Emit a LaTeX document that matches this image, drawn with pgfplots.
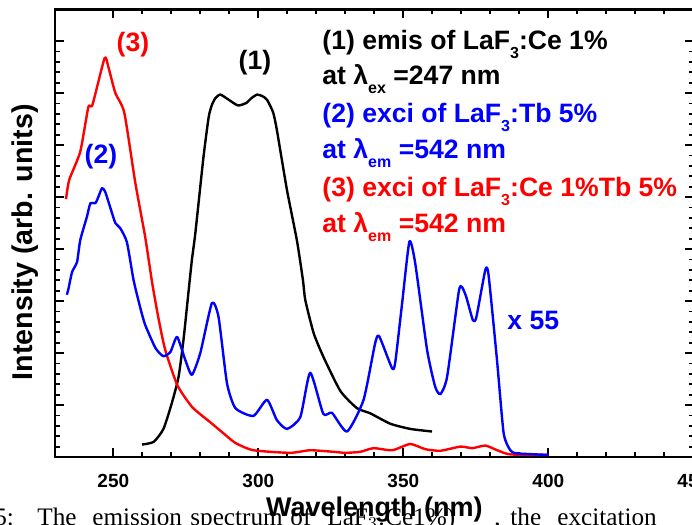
\documentclass[border=0pt]{standalone}
\usepackage{fontspec}
\setmainfont{Liberation Sans}
\newfontfamily\capfont{Liberation Serif}
\usepackage{pgfplots}
\pgfplotsset{compat=1.18}
\newcommand\sub[1]{\raisebox{-4.5pt}{\fontsize{8}{8}\selectfont #1}}
\begin{document}
\begin{tikzpicture}
\useasboundingbox (0,0) rectangle (346pt,262.5pt);
\clip (0,0) rectangle (346pt,262.5pt);
\begin{scope}[every node/.style={inner sep=0pt, anchor=base west, font=\capfont\fontsize{12.6}{14}\selectfont}]
\node at (-3pt,-0.5pt) {5:};
\node at (18.5pt,-0.5pt) {The};
\node at (46pt,-0.5pt) {emission};
\node at (95pt,-0.5pt) {spectrum};
\node at (145pt,-0.5pt) {of};
\node at (163.5pt,-0.5pt) {LaF$_3$:Ce1\%)};
\node at (247pt,-0.5pt) {,};
\node at (255pt,-0.5pt) {the};
\node at (278.5pt,-0.5pt) {excitation};
\end{scope}
\begin{axis}[
  at={(27.65pt,34pt)}, anchor=south west,
  scale only axis, width=319pt, height=223.75pt,
  xmin=230, xmax=450, ymin=0, ymax=8.606,
  axis line style={line width=1.2pt},
  tick style={line width=0.9pt, black},
  major tick length=4.25pt, minor tick length=2.25pt,
  tick align=inside,
  xtick={250,300,350,400,450}, minor x tick num=4,
  ytick={0,1,...,8}, yticklabels={}, minor y tick num=4,
  /pgf/number format/assume math mode=true,
  xticklabel style={font=\bfseries\fontsize{9.5}{11}\selectfont, yshift=-5pt},
  xlabel={Wavelength (nm)}, ylabel={Intensity (arb. units)},
  every axis x label/.style={at={(axis description cs:0.5,0)}, anchor=base, yshift=-30pt, font=\bfseries\fontsize{13.5}{15}\selectfont},
  every axis y label/.style={at={(axis description cs:-0.047,0.48)}, rotate=90, anchor=center, font=\bfseries\fontsize{14.3}{16}\selectfont},
  every axis plot/.append style={line width=1.2pt, line join=round, smooth, tension=0.35},
]
\addplot[black] coordinates {
(259.9,0.24) (263.9,0.29) (267.3,0.54) (270.2,1.04) (272.5,1.54) (274.2,2.25)
(276.0,3.21) (277.1,3.79) (278.3,4.31) (281.1,5.77) (282.9,6.54) (284.0,6.77)
(285.2,6.90) (286.9,6.97) (289.8,6.87) (293.0,6.76) (295.9,6.81) (297.6,6.90)
(299.6,6.97) (301.4,6.94) (303.0,6.87) (305.1,6.63) (306.4,6.29) (309.9,5.13)
(313.3,4.17) (315.4,3.40) (316.2,3.02) (319.1,2.38) (322.5,1.92) (328.3,1.27)
(334.0,0.94) (338.6,0.84) (345.5,0.64) (352.4,0.54) (359.9,0.49)
};
\addplot[red] coordinates {
(233.7,4.96) (234.8,5.33) (238.6,5.87) (241.4,6.73) (242.8,6.77) (247.0,7.67)
(248.3,7.50) (250.7,7.00) (253.8,6.62) (257.6,5.27) (261.0,4.23) (263.4,3.35)
(265.5,2.69) (267.9,2.06) (272.1,1.38) (277.2,0.96) (283.4,0.67) (287.9,0.46)
(292.1,0.27) (298.3,0.13) (311.0,0.08) (317.9,0.13) (325.9,0.10) (330.0,0.08)
(335.2,0.10) (339.7,0.17) (346.2,0.13) (352.4,0.25) (357.6,0.15) (362.8,0.12)
(369.7,0.20) (373.8,0.17) (378.3,0.22) (382.4,0.13) (386.9,0.05) (400.0,0.04)
};
\addplot[blue] coordinates {
(234.0,3.12) (234.6,3.25) (235.8,3.56) (237.5,3.75) (238.6,4.17) (240.9,4.62)
(242.1,4.88) (243.8,4.88) (244.7,4.98) (246.1,5.17) (247.2,5.10) (249.0,4.79)
(250.7,4.50) (252.4,4.40) (254.7,4.13) (257.0,3.40) (259.3,2.87) (261.0,2.54)
(264.5,2.10) (267.2,1.94) (269.7,2.02) (272.0,2.31) (274.8,1.87) (277.1,1.58)
(280.0,2.00) (284.0,2.96) (286.3,2.69) (289.2,1.42) (292.1,0.94) (298.3,0.79)
(303.0,1.10) (306.4,0.71) (309.9,0.54) (314.5,0.77) (317.9,1.62) (322.4,0.83)
(325.4,0.85) (330.6,0.49) (336.3,1.10) (340.3,2.19) (341.7,2.32) (346.1,1.71)
(347.2,1.81) (349.6,2.96) (352.1,4.14) (354.1,3.73) (358.2,2.06) (361.0,1.35)
(362.8,1.21) (365.1,1.54) (369.1,3.17) (370.2,3.27) (371.7,3.08) (374.0,2.63)
(375.2,2.69) (378.3,3.60) (379.4,3.50) (382.3,1.87) (384.6,0.46) (386.9,0.13)
(389.2,0.07) (400.0,0.04)
};
\end{axis}
\begin{scope}[every node/.style={inner sep=0pt, font=\bfseries\fontsize{13.3}{15}\selectfont}]
\node[anchor=base west, text=black] at (161pt,237.5pt) {(1) emis of LaF\sub{3}:Ce 1\%};
\node[anchor=base west, text=black] at (161pt,220pt) {at λ\sub{ex} =247 nm};
\node[anchor=base west, text=blue] at (161pt,201pt) {(2) exci of LaF\sub{3}:Tb 5\%};
\node[anchor=base west, text=blue] at (161pt,183pt) {at λ\sub{em} =542 nm};
\node[anchor=base west, text=red] at (161pt,164pt) {(3) exci of LaF\sub{3}:Ce 1\%Tb 5\%};
\node[anchor=base west, text=red] at (161pt,146pt) {at λ\sub{em} =542 nm};
\node[text=red] at (66.5pt,240pt) {(3)};
\node[text=blue] at (50.5pt,184pt) {(2)};
\node[text=black] at (127.5pt,231pt) {(1)};
\node[anchor=base west, text=blue] at (253.5pt,97.5pt) {x 55};
\end{scope}
\end{tikzpicture}
\end{document}
